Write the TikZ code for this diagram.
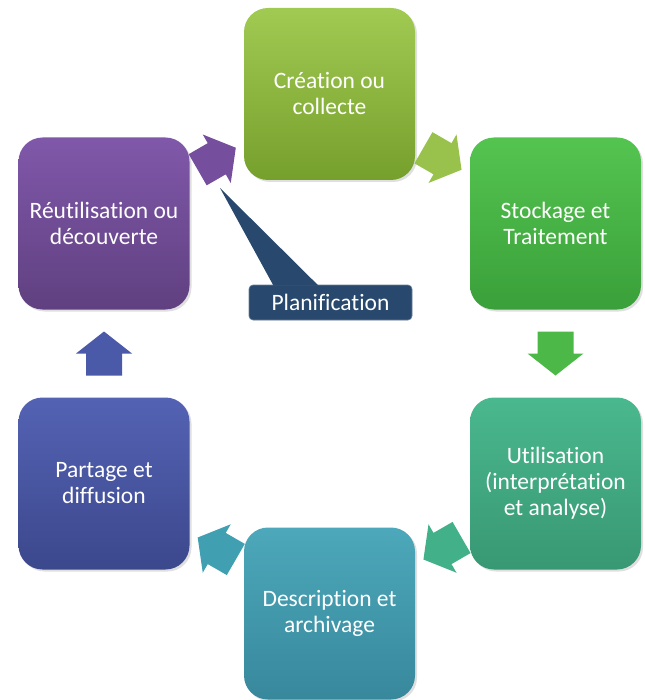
\documentclass[tikz,border=0pt]{standalone}
\usepackage{fontspec}
\setmainfont{Carlito}[RawFeature={-liga;-clig;-dlig;-calt}]
\usetikzlibrary{calc,shadows}
\definecolor{gA1}{RGB}{160,202,82}\definecolor{gA2}{RGB}{118,160,44}
\definecolor{gB1}{RGB}{84,196,80}\definecolor{gB2}{RGB}{58,160,58}
\definecolor{gC1}{RGB}{74,184,142}\definecolor{gC2}{RGB}{56,152,116}
\definecolor{gD1}{RGB}{76,168,186}\definecolor{gD2}{RGB}{56,136,156}
\definecolor{gE1}{RGB}{84,98,180}\definecolor{gE2}{RGB}{60,72,140}
\definecolor{gF1}{RGB}{128,88,170}\definecolor{gF2}{RGB}{96,64,128}
\definecolor{planc}{RGB}{40,72,110}
\definecolor{aA}{RGB}{152,194,76}
\definecolor{aB}{RGB}{76,184,72}
\definecolor{aC}{RGB}{66,176,136}
\definecolor{aD}{RGB}{64,160,178}
\definecolor{aE}{RGB}{74,90,168}
\definecolor{aF}{RGB}{118,78,158}
\tikzset{
  box/.style={rounded corners=24pt, minimum width=171pt, minimum height=172pt,
    inner sep=4pt, align=center, text=white,
    font=\fontsize{23.5}{26}\selectfont,
    drop shadow={shadow xshift=2pt, shadow yshift=-2pt, opacity=0.25}},
  plan/.style={rounded corners=4pt, minimum width=163pt, minimum height=35pt,
    inner sep=0pt, fill=planc, draw=planc!70!white, line width=0.6pt, text=white,
    font=\fontsize{23.5}{26}\selectfont},
  barrow/.pic={\fill[pic actions] (-22,-18) -- (0,-18) -- (0,-28) -- (22,0) -- (0,28) -- (0,18) -- (-22,18) -- cycle;}
}
\begin{document}
\begin{tikzpicture}[x=1pt,y=-1pt]
\useasboundingbox (0,0) rectangle (644,700);
\node[box, top color=gA1, bottom color=gA2] (b1) at (329.5,94) {Création ou\\collecte};
\node[box, top color=gB1, bottom color=gB2] (b2) at (555.5,223.5) {Stockage et\\Traitement};
\node[box, top color=gC1, bottom color=gC2] (b3) at (555.5,483.5) {Utilisation\\(interprétation\\et analyse)};
\node[box, top color=gD1, bottom color=gD2] (b4) at (329.5,613.5) {Description et\\archivage};
\node[box, top color=gE1, bottom color=gE2] (b5) at (104,483.5) {Partage et\\diffusion};
\node[box, top color=gF1, bottom color=gF2] (b6) at (104,223.5) {Réutilisation ou\\découverte};
\path ($(b6)!0.5!(b1)$) pic[fill=aF, rotate=30] {barrow};
\path ($(b1)!0.5!(b2)$) pic[fill=aA, rotate=-30] {barrow};
\path ($(b2)!0.5!(b3)$) pic[fill=aB, rotate=-90] {barrow};
\path ($(b3)!0.5!(b4)$) pic[fill=aC, rotate=210] {barrow};
\path ($(b4)!0.5!(b5)$) pic[fill=aD, rotate=150] {barrow};
\path ($(b5)!0.5!(b6)$) pic[fill=aE, rotate=90] {barrow};
\coordinate (ptip) at (220,188);
\node[plan] (p) at (330.5,302.5) {Planification};
\fill[planc] (ptip) -- ([xshift=-57pt,yshift=-1pt]p.north) -- ([xshift=-12pt,yshift=-1pt]p.north) -- cycle;
\end{tikzpicture}
\end{document}
